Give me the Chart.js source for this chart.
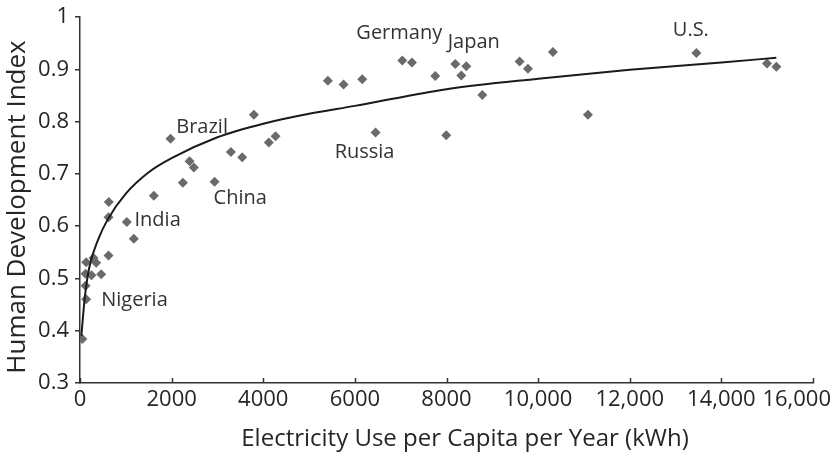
<!DOCTYPE html>
<html>
<head>
<meta charset="utf-8">
<script src="https://cdn.jsdelivr.net/npm/chart.js@4.4.1/dist/chart.umd.min.js"></script>
<style>
  html, body { margin: 0; padding: 0; background: #fff; }
  #wrap { width: 834px; height: 458px; }
</style>
</head>
<body>
<div id="wrap"><canvas id="hdiChart" width="834" height="458"></canvas></div>
<script>
// electricity use (kWh per capita per year) and HDI, one entry per country
const usoElectrico = [50, 135, 120, 120, 135, 251, 295, 354, 463, 622, 622, 629, 1022, 1175, 1611, 1976, 2245, 2391, 2485, 2937, 3293, 3541, 3795, 4122, 4269, 5411, 5753, 6161, 6452, 7035, 7245, 7755, 7995, 8192, 8323, 8432, 8782, 9596, 9778, 10323, 11087, 13454, 14996, 15201];
const indiceHdi = [0.384, 0.460, 0.486, 0.509, 0.531, 0.506, 0.539, 0.530, 0.508, 0.544, 0.617, 0.646, 0.608, 0.576, 0.658, 0.767, 0.683, 0.724, 0.712, 0.685, 0.742, 0.732, 0.813, 0.760, 0.772, 0.878, 0.871, 0.881, 0.779, 0.917, 0.913, 0.887, 0.774, 0.910, 0.888, 0.906, 0.851, 0.915, 0.901, 0.933, 0.813, 0.931, 0.911, 0.905];

// trend curve
const curvaX = [30, 100, 200, 400, 600, 1000, 1500, 2000, 3000, 4000, 5000, 6000, 8000, 10000, 12000, 14000, 15200];
const curvaY = [0.39, 0.46, 0.52, 0.575, 0.612, 0.662, 0.703, 0.73, 0.77, 0.796, 0.815, 0.83, 0.862, 0.882, 0.899, 0.913, 0.922];

// country names and where they sit (data units)
const paises = ['Nigeria', 'India', 'Brazil', 'China', 'Russia', 'Germany', 'Japan', 'U.S.'];
const paisesX = [463, 1190, 2101, 2916, 5558, 6032, 8026, 12940];
const paisesY = [0.459, 0.612, 0.789, 0.654, 0.741, 0.968, 0.951, 0.974];

const ticksX = ['0', '2000', '4000', '6000', '8000', '10,000', '12,000', '14,000', '16,000'];
const ticksY = ['0.3', '0.4', '0.5', '0.6', '0.7', '0.8', '0.9', '1'];

const tituloX = 'Electricity Use per Capita per Year (kWh)';
const tituloY = 'Human Development Index';

const fuente = '"Open Sans", "Noto Sans", sans-serif';
const gris = '#6a6a6a';
const tinta = '#262626';

const puntos = usoElectrico.map((x, i) => ({ x: x, y: indiceHdi[i] }));
const curva = curvaX.map((x, i) => ({ x: x, y: curvaY[i] }));

const ctx = document.getElementById('hdiChart').getContext('2d');

// country names, axis titles, inward tick marks on x, last x label kept inside the canvas
const extras = {
  id: 'extras',
  afterDraw(chart) {
    const c = chart.ctx;
    const sx = chart.scales.x, sy = chart.scales.y;
    c.save();
    c.strokeStyle = '#333';
    c.lineWidth = 1.5;
    sx.ticks.forEach(t => {
      const px = Math.round(sx.getPixelForValue(t.value)) + 0.5;
      c.beginPath();
      c.moveTo(px, sx.top);
      c.lineTo(px, sx.top - 5);
      c.stroke();
    });
    c.font = '22px ' + fuente;
    c.fillStyle = tinta;
    c.textAlign = 'right';
    c.textBaseline = 'middle';
    c.fillText(ticksX[ticksX.length - 1], chart.width - 3, sx.top + 4 + 13.2);

    // axis titles
    c.textAlign = 'center';
    c.font = '24px ' + fuente;
    c.fillText(tituloX, 465, 439);
    c.save();
    c.translate(18, 207);
    c.rotate(-Math.PI / 2);
    c.font = '26px ' + fuente;
    c.fillText(tituloY, 0, 0);
    c.restore();

    c.font = '20px ' + fuente;
    c.fillStyle = '#333';
    c.textAlign = 'left';
    paises.forEach((p, i) => {
      c.fillText(p, sx.getPixelForValue(paisesX[i]), sy.getPixelForValue(paisesY[i]));
    });
    c.restore();
  }
};

new Chart(ctx, {
  type: 'scatter',
  data: {
    datasets: [{
      label: 'HDI',
      data: puntos,
      pointStyle: 'rectRot',
      pointRadius: 5,
      backgroundColor: gris,
      borderColor: gris,
      borderWidth: 0,
      order: 2
    }, {
      type: 'line',
      label: 'Tendencia',
      data: curva,
      borderColor: '#1a1a1a',
      borderWidth: 2,
      pointRadius: 0,
      fill: false,
      cubicInterpolationMode: 'monotone',
      order: 1
    }]
  },
  options: {
    responsive: false,
    animation: false,
    devicePixelRatio: 1,
    layout: { padding: { top: 17, right: 21, left: 0, bottom: 0 } },
    plugins: {
      legend: { display: false },
      tooltip: { enabled: false }
    },
    scales: {
      x: {
        type: 'linear',
        min: 0,
        max: 16000,
        afterFit(s) { s.height = 75; s.paddingRight = 0; s.paddingLeft = 0; },
        afterBuildTicks(s) {
          s.ticks = ticksX.map((t, i) => ({ value: i * 2000 }));
        },
        ticks: {
          autoSkip: false,
          maxRotation: 0,
          color: tinta,
          padding: 4,
          font: { family: fuente, size: 22 },
          callback: (v, i) => (i === ticksX.length - 1 ? '' : ticksX[i])
        },
        grid: { drawOnChartArea: false, drawTicks: false },
        border: { color: '#333', width: 1.5 }
      },
      y: {
        min: 0.3,
        max: 1,
        afterFit(s) { s.width = 80; s.paddingTop = 0; s.paddingBottom = 0; },
        afterBuildTicks(s) {
          s.ticks = ticksY.map((t, i) => ({ value: 0.3 + i * 0.1 }));
        },
        ticks: {
          color: tinta,
          padding: 6,
          font: { family: fuente, size: 22 },
          callback: (v, i) => ticksY[i]
        },
        grid: { drawOnChartArea: false, tickLength: 5, color: '#333', lineWidth: 1.5 },
        border: { color: '#333', width: 1.5 }
      }
    }
  },
  plugins: [extras]
});
</script>
</body>
</html>
